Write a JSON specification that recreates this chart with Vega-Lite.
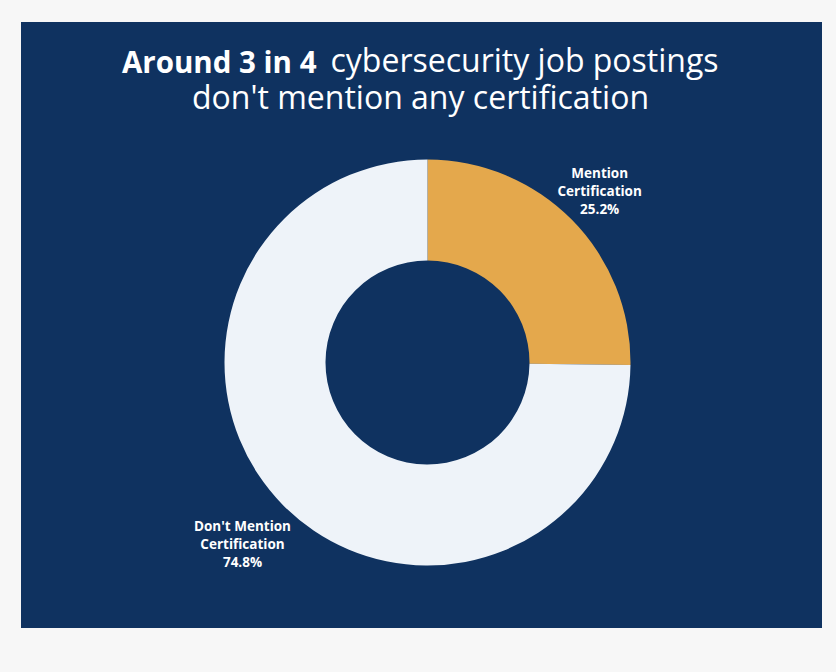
{
  "$schema": "https://vega.github.io/schema/vega-lite/v6.json",
  "background": "#f7f7f7",
  "padding": {"left": 21, "top": 22, "right": 14, "bottom": 44},
  "bounds": "flush",
  "spacing": 0,
  "title": {"text": "Around 3 in 4", "anchor": "middle", "align": "right", "dx": -105, "offset": -57, "frame": "bounds", "font": "Open Sans", "fontSize": 29.5, "fontWeight": "bold", "color": "#ffffff"},
  "config": {"view": {"fill": "#0f3260", "stroke": null}, "concat": {"spacing": 0}},
  "vconcat": [
    {
      "width": 801,
      "height": 75,
      "view": {"fill": "#0f3260", "stroke": null},
      "data": {"values": []},
      "mark": "point",
      "title": {"text": "cybersecurity job postings", "anchor": "middle", "align": "left", "dx": -91, "offset": -57, "frame": "group", "font": "Open Sans", "fontSize": 32, "fontWeight": "normal", "color": "#ffffff"}
    },
    {
      "hconcat": [
        {"width": 12, "height": 531, "view": {"fill": "#0f3260", "stroke": null}, "data": {"values": []}, "mark": "point"},
        {
          "width": 789,
          "height": 531,
          "view": {"fill": "#0f3260", "stroke": null},
          "title": {"text": "don't mention any certification", "anchor": "middle", "align": "center", "dx": -7, "offset": -19, "frame": "group", "font": "Open Sans", "fontSize": 32, "fontWeight": "normal", "color": "#ffffff"},
          "data": {"values": [
            {"category": "Mention Certification", "pct": 25.2, "label": "Mention\nCertification\n25.2%"},
            {"category": "Don't Mention Certification", "pct": 74.8, "label": "Don't Mention\nCertification\n74.8%"}
          ]},
          "encoding": {
            "theta": {"field": "pct", "type": "quantitative", "stack": true},
            "order": {"field": "pct", "type": "quantitative", "sort": "ascending"}
          },
          "layer": [
            {
              "mark": {"type": "arc", "innerRadius": 102, "outerRadius": 203},
              "encoding": {
                "color": {"field": "category", "type": "nominal", "scale": {"domain": ["Mention Certification", "Don't Mention Certification"], "range": ["#e4a84c", "#eef3f9"]}, "legend": null}
              }
            },
            {
              "mark": {"type": "text", "radius": 242, "dy": -18, "font": "Open Sans", "fontSize": 13.5, "fontWeight": "bold", "lineBreak": "\n", "lineHeight": 18, "fill": "#ffffff", "align": "center", "baseline": "middle"},
              "encoding": {
                "text": {"field": "label", "type": "nominal"},
                "opacity": {"condition": {"test": "datum.category === 'Mention Certification'", "value": 1}, "value": 0}
              }
            },
            {
              "mark": {"type": "text", "radius": 260, "dy": -18, "font": "Open Sans", "fontSize": 13.5, "fontWeight": "bold", "lineBreak": "\n", "lineHeight": 18, "fill": "#ffffff", "align": "center", "baseline": "middle"},
              "encoding": {
                "text": {"field": "label", "type": "nominal"},
                "opacity": {"condition": {"test": "datum.category === 'Mention Certification'", "value": 0}, "value": 1}
              }
            }
          ]
        }
      ],
      "spacing": 0,
      "bounds": "flush"
    }
  ]
}
